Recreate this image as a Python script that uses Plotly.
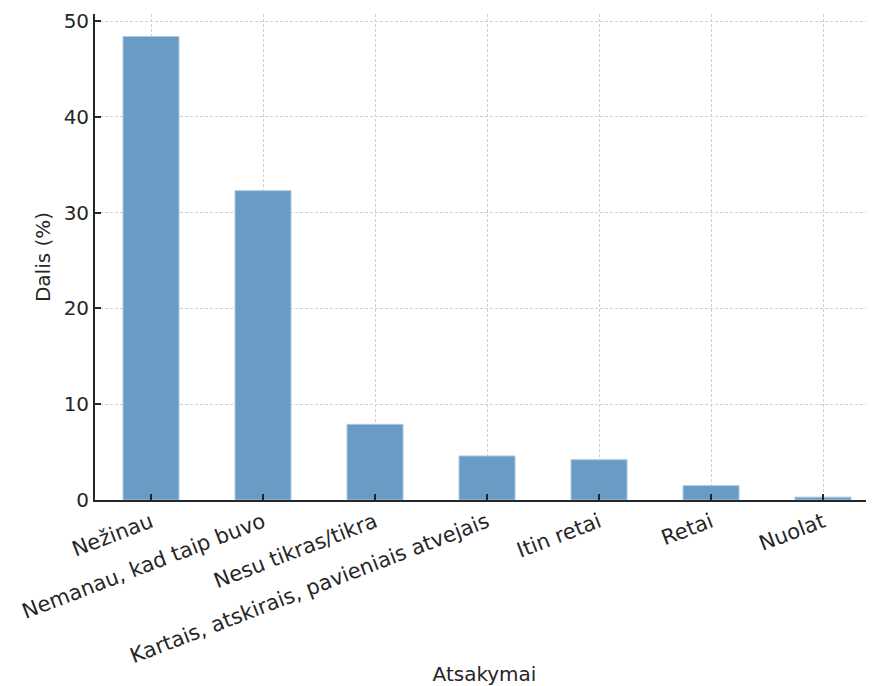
import plotly.graph_objects as go

categories = ["Nežinau", "Nemanau, kad taip buvo", "Nesu tikras/tikra",
              "Kartais, atskirais, pavieniais atvejais", "Itin retai", "Retai", "Nuolat"]
values = [48.4, 32.3, 7.9, 4.6, 4.2, 1.5, 0.3]
y_ticks = [0, 10, 20, 30, 40, 50]

fig = go.Figure(go.Bar(
    x=categories, y=values, width=0.5,
    marker=dict(color="rgb(106,155,196)", line=dict(color="rgb(170,200,228)", width=1)),
))

font_family = "DejaVu Sans"
grid = dict(showgrid=True, gridcolor="#d0d0d0", griddash="3px,2px", gridwidth=1)
fig.update_layout(
    width=866, height=678,
    margin=dict(l=87, r=0, t=6, b=186),
    plot_bgcolor="white", paper_bgcolor="white",
    font=dict(family=font_family, size=20, color="#262626"),
    showlegend=False,
)
fig.update_xaxes(
    range=[-0.5, 6.455],
    tickangle=-21,
    ticks="inside", ticklen=6, tickwidth=1.5, tickcolor="#262626",
    showline=True, linecolor="#262626", linewidth=1.8,
    automargin=False,
    title=dict(text="Atsakymai", font=dict(size=20), standoff=10),
    tickfont=dict(size=21),
    **grid,
)
fig.update_yaxes(
    range=[0, 50.75],
    tickvals=y_ticks,
    ticks="inside", ticklen=6, tickwidth=1.5, tickcolor="#262626",
    showline=True, linecolor="#262626", linewidth=1.8,
    zeroline=False,
    automargin=False,
    title=dict(text="Dalis (%)", font=dict(size=20), standoff=8),
    tickfont=dict(size=20),
    **grid,
)
fig.write_html("out.html")
